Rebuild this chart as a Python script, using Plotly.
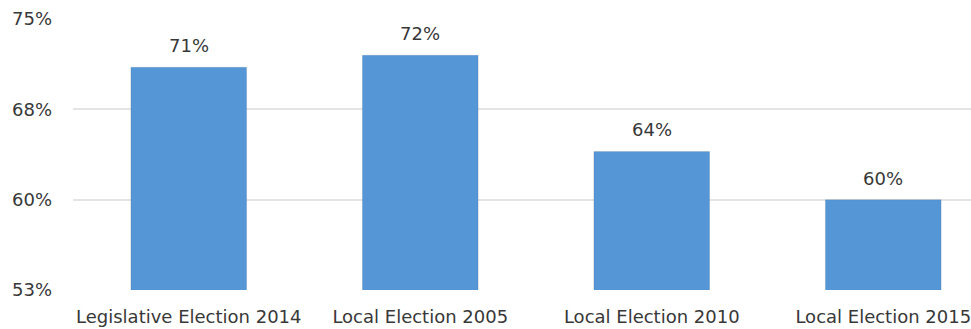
import plotly.graph_objects as go

# Turnout by election
categories = ["Legislative Election 2014", "Local Election 2005", "Local Election 2010", "Local Election 2015"]
turnout = [71, 72, 64, 60]

# Y axis ticks (percent)
tick_values = [52.5, 60, 67.5, 75]
tick_labels = ["53%", "60%", "68%", "75%"]

FONT = "DejaVu Sans, sans-serif"
TEXT_COLOR = "#383838"
BAR_COLOR = "#5596d6"

fig = go.Figure()
fig.add_trace(go.Bar(
    x=categories,
    y=turnout,
    marker=dict(color=BAR_COLOR, line=dict(color="rgba(0,0,0,0.08)", width=1)),
    hoverinfo="x+y",
))

for cat, val in zip(categories, turnout):
    fig.add_annotation(
        x=cat, y=val, text=f"{val}%", showarrow=False,
        yanchor="bottom", yshift=9,
        font=dict(family=FONT, size=18, color=TEXT_COLOR),
    )

fig.update_layout(
    width=971, height=329,
    margin=dict(l=73, r=0, t=19, b=39),
    paper_bgcolor="white", plot_bgcolor="white",
    bargap=0.5,
    showlegend=False,
    font=dict(family=FONT, size=18, color=TEXT_COLOR),
)
fig.update_xaxes(
    range=[-0.5, 3.379],
    showgrid=False, showline=False, zeroline=False,
    ticks="", ticklabelstandoff=14,
    tickfont=dict(family=FONT, size=18, color=TEXT_COLOR),
    automargin=False,
)
fig.update_yaxes(
    range=[52.5, 75],
    tickvals=tick_values, ticktext=tick_labels,
    showgrid=True, gridcolor="#e4e4e4", gridwidth=2,
    zeroline=False, showline=False,
    ticks="", ticklabelstandoff=20,
    tickfont=dict(family=FONT, size=18, color=TEXT_COLOR),
    automargin=False,
)

fig.write_html("out.html")
